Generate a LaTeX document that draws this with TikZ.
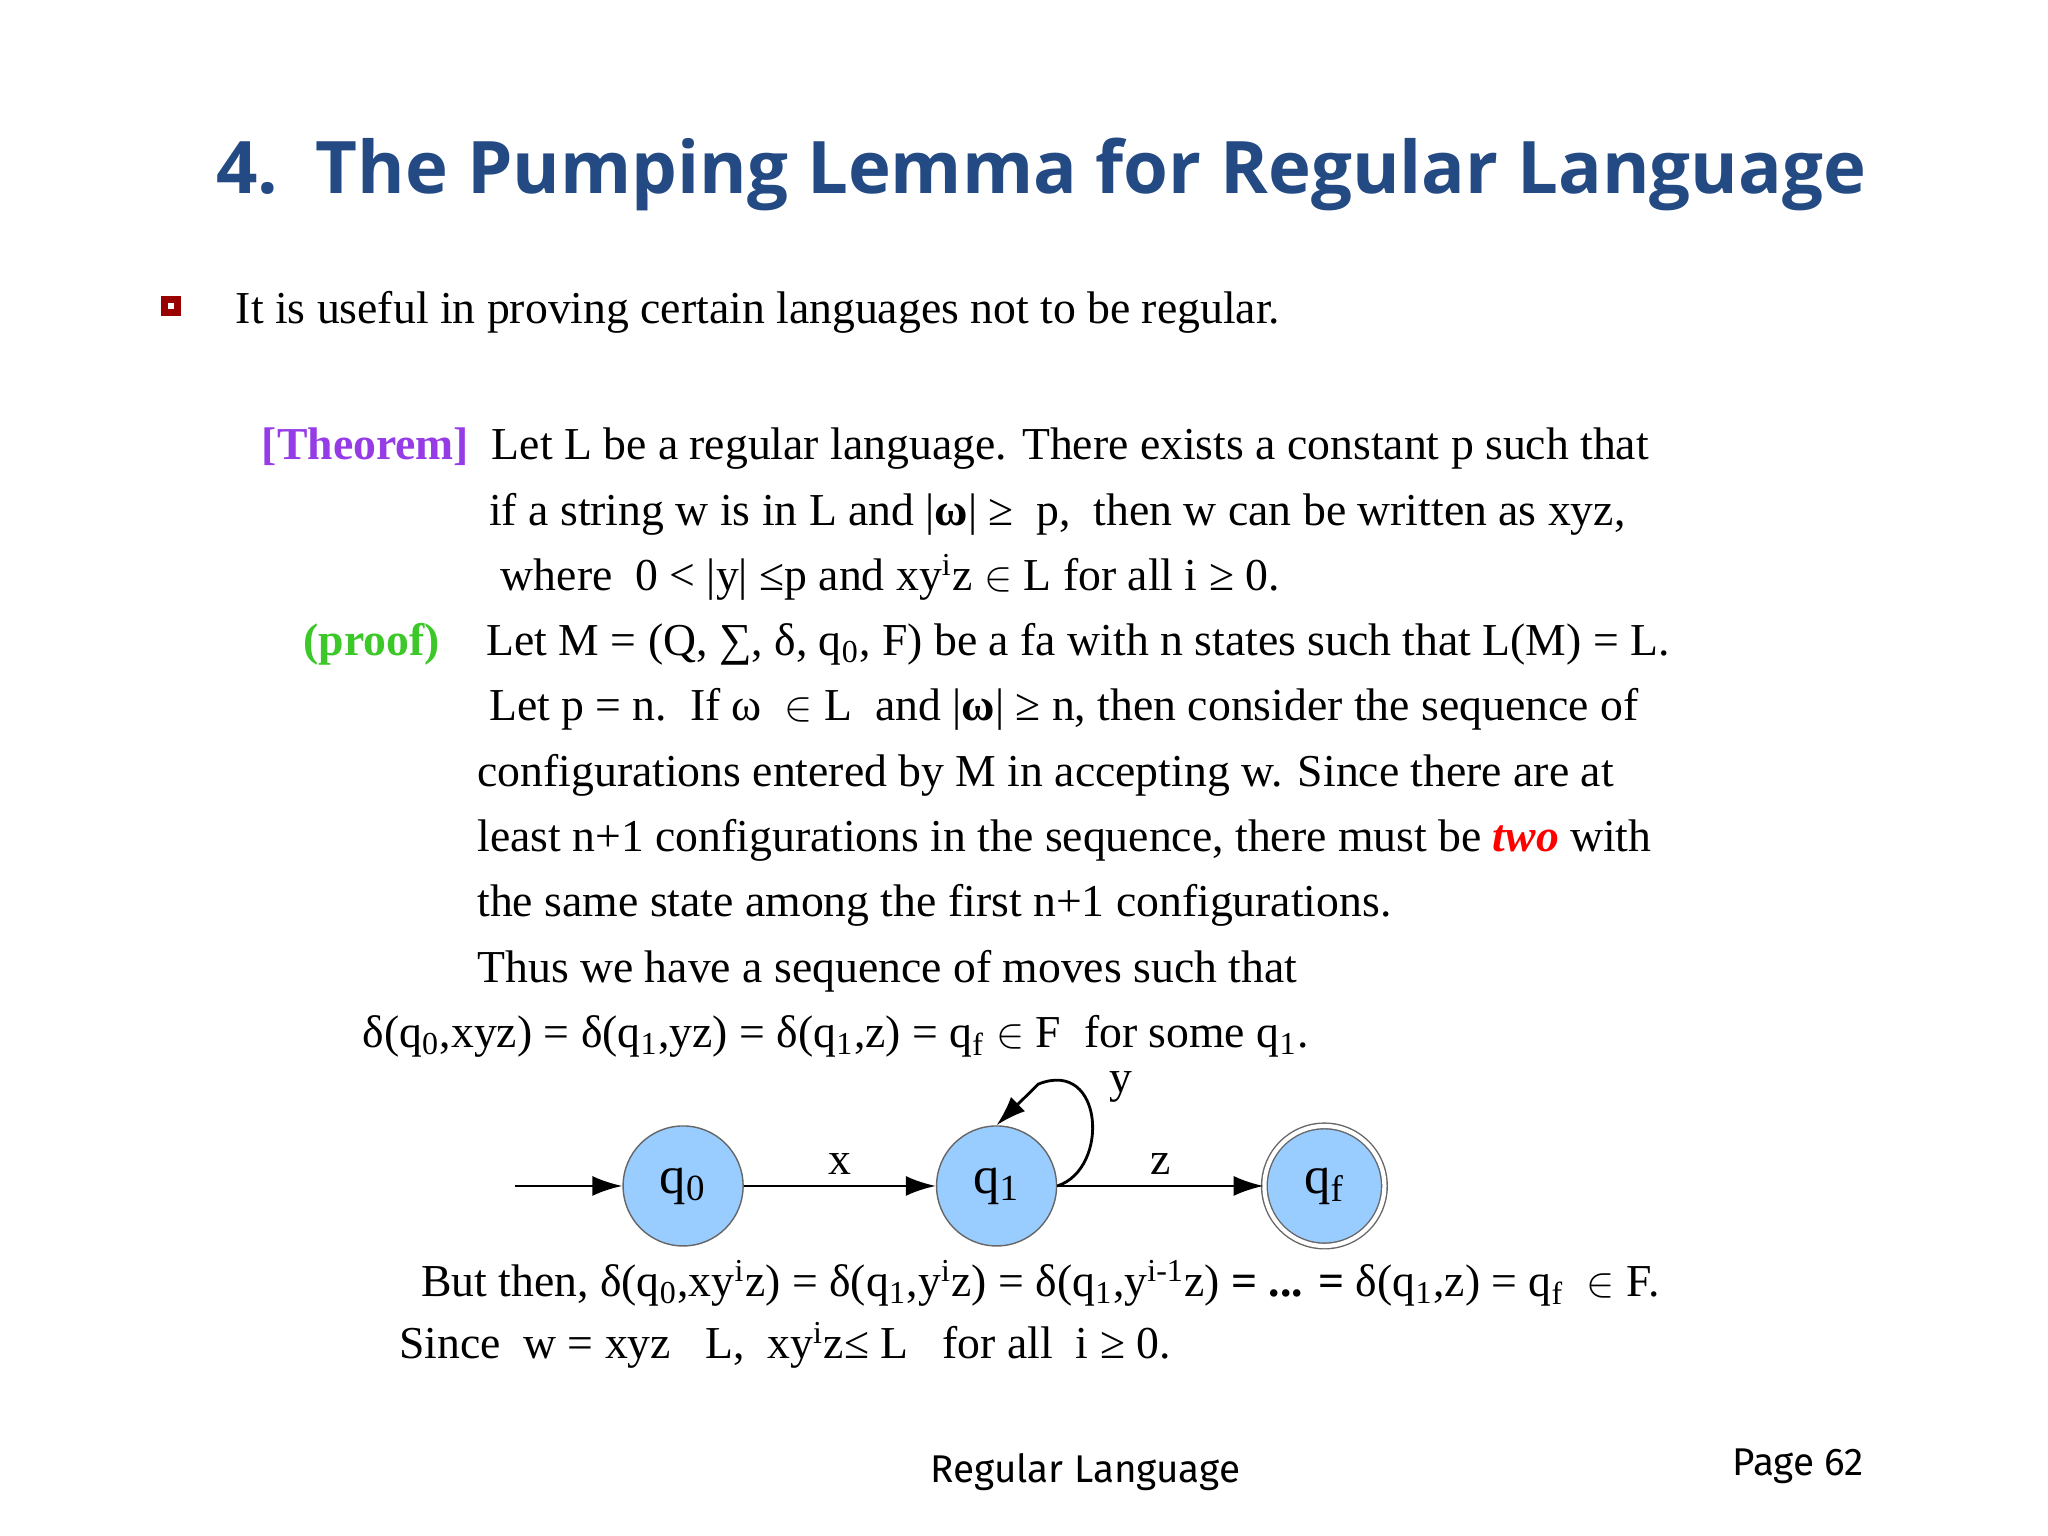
\documentclass[tikz,border=0pt]{standalone}
\usepackage{fontspec}
\setmainfont{Liberation Serif}
\newfontfamily\titlefont{Open Sans}
\newfontfamily\footfont{Fira Sans}
\usetikzlibrary{arrows.meta}
\definecolor{titleblue}{RGB}{35,74,130}
\definecolor{statefill}{RGB}{153,204,255}
\definecolor{thm}{RGB}{150,60,230}
\definecolor{prf}{RGB}{60,200,40}
\newcommand{\sbs}[1]{\textsubscript{#1}}
\newcommand{\sps}[1]{\textsuperscript{#1}}
\tikzset{
  txt/.style={anchor=base west,inner sep=0pt,font=\fontsize{13}{15}\selectfont},
  state/.style={circle,draw=gray!80!black,fill=statefill,minimum size=1.2cm,inner sep=0pt,font=\fontsize{15}{17}\selectfont},
  edge/.style={-{Latex[length=3mm,width=2mm]},thick},
  lbl/.style={font=\fontsize{13}{15}\selectfont,inner sep=1pt}
}
\begin{document}
\begin{tikzpicture}[x=0.01306cm,y=-0.01306cm]
\useasboundingbox (0,0) rectangle (1568,1176);
\node[anchor=base west,inner sep=0pt,text=titleblue,font=\titlefont\bfseries\fontsize{24}{28}\selectfont] (title) at (165,148) {\resizebox{16.5cm}{!}{4.\ \ The Pumping Lemma for Regular Language}};
\node[draw=red!60!black,fill=white,line width=2pt,minimum size=0.13cm,inner sep=0pt] (bul) at (131,234) {};
\node[txt] (l1) at (180,248) {It is useful in proving certain languages not to be regular.};
\node[txt,text=thm,font=\bfseries\fontsize{13}{15}\selectfont] (th) at (200,352) {[Theorem]};
\node[txt] (t1) at (376,352) {Let L be a regular language. There exists a constant p such that};
\node[txt] (t2) at (374,402) {if a string w is in L and |\textbf{ω}| ≥\ \ p,\ \ then w can be written as xyz,};
\node[txt] (t3) at (383,452) {where\ \ 0 < |y| ≤p and xy\sps{i}z $\in$ L for all i ≥ 0.};
\node[txt,text=prf,font=\bfseries\fontsize{13}{15}\selectfont] (pf) at (232,502) {(proof)};
\node[txt] (p1) at (372,502) {Let M = (Q, ∑, δ, q\sbs{0}, F) be a fa with n states such that L(M) = L.};
\node[txt] (p2) at (374,552) {Let p = n.\ \ If ω\ \ $\in$ L\ \ and |\textbf{ω}| ≥ n, then consider the sequence of};
\node[txt] (p3) at (365,602) {configurations entered by M in accepting w. Since there are at};
\node[txt] (p4) at (365,652) {least n+1 configurations in the sequence, there must be \textcolor{red}{\bfseries\itshape two} with};
\node[txt] (p5) at (365,702) {the same state among the first n+1 configurations.};
\node[txt] (p6) at (365,752) {Thus we have a sequence of moves such that};
\node[txt] (p7) at (277,802) {δ(q\sbs{0},xyz) = δ(q\sbs{1},yz) = δ(q\sbs{1},z) = q\sbs{f} $\in$ F\ \ for some q\sbs{1}.};
\node[state] (q0) at (523,908) {q\sbs{0}};
\node[state] (q1) at (763,908) {q\sbs{1}};
\node[state,double,double distance=1.2pt] (qf) at (1014,908) {q\sbs{f}};
\coordinate (start) at (394,908);
\draw[edge] (start) -- (q0);
\draw[edge] (q0) -- node[lbl,above=2pt]{x} (q1);
\draw[edge] (q1) -- node[lbl,above=2pt]{z} (qf);
\draw[edge] (q1.east) .. controls (850,895) and (845,810) .. (795,830) -- (q1.north);
\node[lbl] (ylbl) at (858,832) {y};
\node[txt] (b1) at (322,993) {But then, δ(q\sbs{0},xy\sps{i}z) = δ(q\sbs{1},y\sps{i}z) = δ(q\sbs{1},y\sps{i-1}z) \textbf{= ... =} δ(q\sbs{1},z) = q\sbs{f}\ \ $\in$ F.};
\node[txt] (b2) at (305,1040) {Since\ \ w = xyz\ \ \ L,\ \ xy\sps{i}z≤ L\ \ \ for all\ \ i ≥ 0.};
\node[anchor=base west,inner sep=0pt,font=\footfont\fontsize{11}{13}\selectfont] (foot) at (712,1135) {Regular Language};
\node[anchor=base west,inner sep=0pt,font=\footfont\fontsize{11}{13}\selectfont] (page) at (1326,1130) {Page 62};
\end{tikzpicture}
\end{document}
